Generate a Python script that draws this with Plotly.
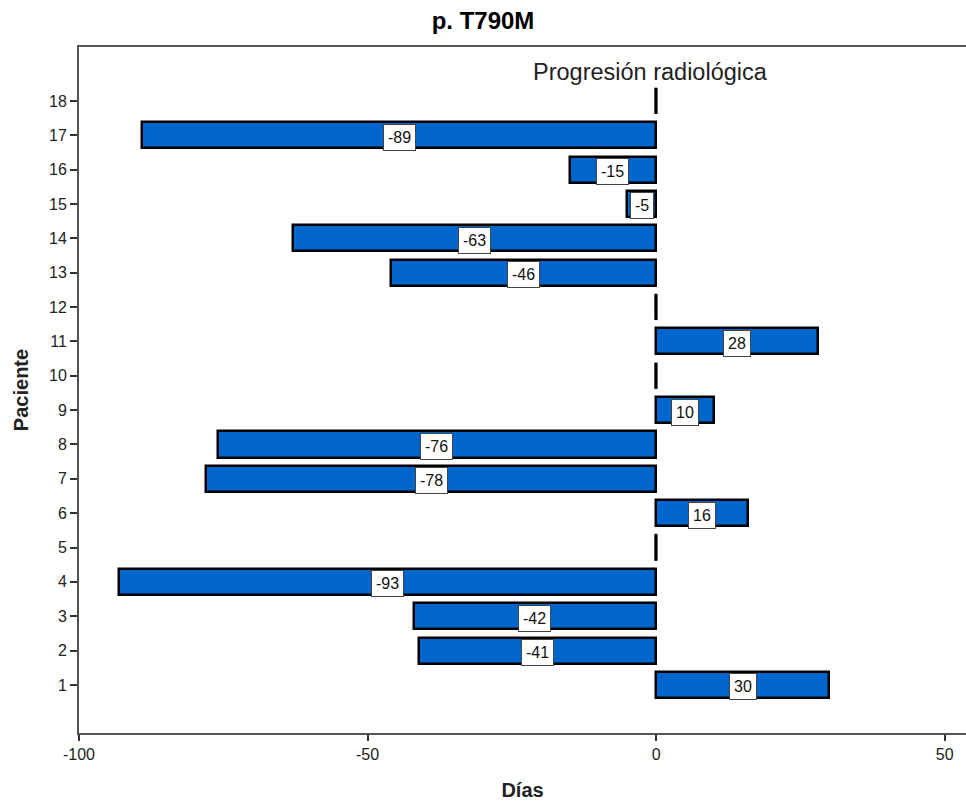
import plotly.graph_objects as go

# Days from radiological progression per patient (T790M)
patients = list(range(1, 19))
days = [30, -41, -42, -93, 0, 16, -78, -76, 10, 0, 28, 0, -46, -63, -5, -15, -89, 0]

x_ticks = [-100, -50, 0, 50]
x_tick_text = ["-100", "-50", "0", "50"]

bar_color = "#0066CC"
bar_width = 0.76
font_family = "Liberation Sans, Arial, sans-serif"

fig = go.Figure()

fig.add_trace(go.Bar(
    x=days,
    y=patients,
    orientation="h",
    width=bar_width,
    marker=dict(color=bar_color, line=dict(color="black", width=2.5)),
    hoverinfo="x+y",
    showlegend=False,
))

# zero-day patients: just the outline edge at x = 0
zx, zy = [], []
for p, d in zip(patients, days):
    if d == 0:
        zx += [0, 0, None]
        zy += [p - bar_width / 2, p + bar_width / 2, None]
fig.add_trace(go.Scatter(
    x=zx, y=zy, mode="lines",
    line=dict(color="black", width=3),
    hoverinfo="skip", showlegend=False,
))

# value labels centred on each bar
for p, d in zip(patients, days):
    if d == 0:
        continue
    fig.add_annotation(
        x=d / 2, y=p, text=str(d), showarrow=False, yshift=-2,
        font=dict(family=font_family, size=16, color="#111"),
        bgcolor="white", bordercolor="#444", borderwidth=1, borderpad=4,
    )

fig.add_annotation(
    x=0, y=18.84, text="Progresión radiológica", showarrow=False, xshift=-6,
    font=dict(family=font_family, size=23.5, color="#222"),
)

fig.update_layout(
    width=966, height=806,
    margin=dict(l=79, r=0, t=47, b=73),
    plot_bgcolor="white", paper_bgcolor="white",
    title=dict(text="<b>p. T790M</b>", x=0.5, xanchor="center", y=0.975, yanchor="middle",
               font=dict(family=font_family, size=24, color="black")),
    font=dict(family=font_family, color="#222"),
    bargap=0,
)

fig.update_xaxes(
    range=[-100, 53.7], tickvals=x_ticks, ticktext=x_tick_text,
    showgrid=False, zeroline=False,
    showline=True, linecolor="#555", linewidth=2, mirror=True,
    ticks="outside", ticklen=6, tickcolor="#333", tickwidth=1.5,
    tickfont=dict(size=16, color="#222"),
    title=dict(text="<b>Días</b>", font=dict(size=20, color="#222"), standoff=21),
)
fig.update_yaxes(
    range=[-0.4, 19.57], tickvals=patients,
    showgrid=False, zeroline=False,
    showline=True, linecolor="#555", linewidth=2,
    ticks="outside", ticklen=7, tickcolor="#333", tickwidth=1.5,
    tickfont=dict(size=16, color="#222"),
    title=dict(text="<b>Paciente</b>", font=dict(size=20, color="#222"), standoff=15),
)

fig.write_html("out.html")
